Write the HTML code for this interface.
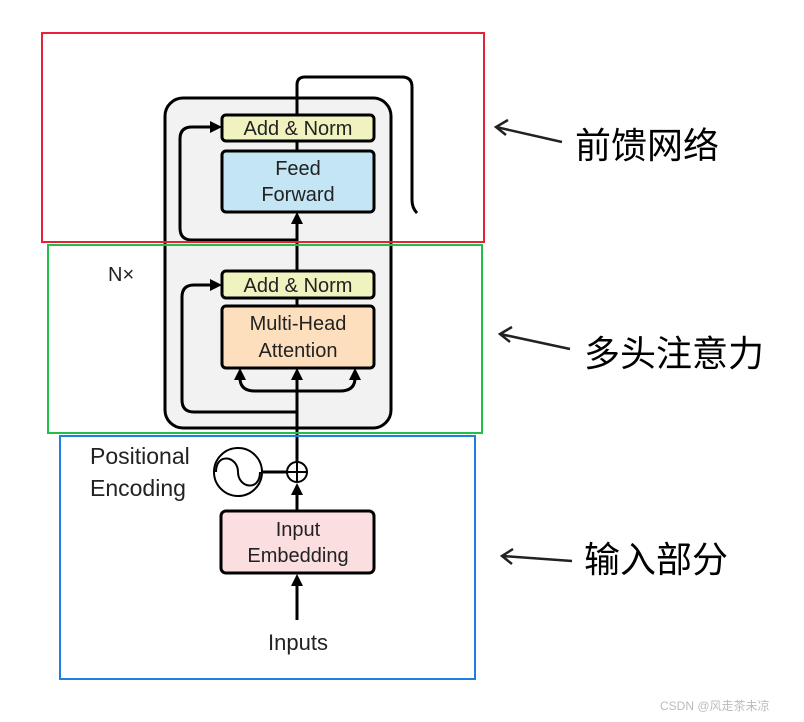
<!DOCTYPE html>
<html><head><meta charset="utf-8"><style>
html,body{margin:0;padding:0;background:#fff;width:804px;height:722px;overflow:hidden}
svg{display:block}
text{font-family:"Liberation Sans","Noto Sans CJK SC",sans-serif}
</style></head><body>
<svg width="804" height="722" viewBox="0 0 804 722" xmlns="http://www.w3.org/2000/svg">
<rect x="165" y="98" width="226" height="330" rx="18" fill="#f2f2f2" stroke="#000" stroke-width="3"/>
<path d="M297,114 L297,85 Q297,77 305,77 L402,77 Q412,77 412,87 L412,200 Q412,208 417,213" fill="none" stroke="#000" stroke-width="3"/>
<!-- main vertical line segments -->
<line x1="297" y1="620" x2="297" y2="585" stroke="#000" stroke-width="3"/>
<path d="M291,586 L297,574 L303,586 z" fill="#000"/>
<line x1="297" y1="510" x2="297" y2="494" stroke="#000" stroke-width="3"/>
<path d="M291,495 L297,483 L303,495 z" fill="#000"/>
<line x1="297" y1="462" x2="297" y2="378" stroke="#000" stroke-width="3"/>
<path d="M291,380 L297,368 L303,380 z" fill="#000"/>
<line x1="297" y1="298" x2="297" y2="306" stroke="#000" stroke-width="3"/>
<line x1="297" y1="270" x2="297" y2="222" stroke="#000" stroke-width="3"/>
<path d="M291,224 L297,212 L303,224 z" fill="#000"/>
<line x1="297" y1="141" x2="297" y2="151" stroke="#000" stroke-width="3"/>
<!-- MHA side arrows -->
<path d="M240,378 Q240,391 255,391 L340,391 Q355,391 355,378" fill="none" stroke="#000" stroke-width="3"/>
<path d="M234,380 L240,368 L246,380 z" fill="#000"/>
<path d="M349,380 L355,368 L361,380 z" fill="#000"/>
<!-- residual loops -->
<path d="M297,412 L194,412 Q182,412 182,400 L182,297 Q182,285 194,285 L212,285" fill="none" stroke="#000" stroke-width="3"/>
<path d="M210,279 L222,285 L210,291 z" fill="#000"/>
<path d="M297,240 L192,240 Q180,240 180,228 L180,139 Q180,127 192,127 L212,127" fill="none" stroke="#000" stroke-width="3"/>
<path d="M210,121 L222,127 L210,133 z" fill="#000"/>
<!-- boxes -->
<rect x="222" y="115" width="152" height="26" rx="4" fill="#f0f3c0" stroke="#000" stroke-width="3"/>
<text x="298" y="135" font-size="20" text-anchor="middle" fill="#222">Add &amp; Norm</text>
<rect x="222" y="151" width="152" height="61" rx="4" fill="#c3e5f4" stroke="#000" stroke-width="3"/>
<text x="298" y="175" font-size="20" text-anchor="middle" fill="#222">Feed</text>
<text x="298" y="201" font-size="20" text-anchor="middle" fill="#222">Forward</text>
<rect x="222" y="271" width="152" height="27" rx="4" fill="#f0f3c0" stroke="#000" stroke-width="3"/>
<text x="298" y="292" font-size="20" text-anchor="middle" fill="#222">Add &amp; Norm</text>
<rect x="222" y="306" width="152" height="62" rx="4" fill="#fddfbe" stroke="#000" stroke-width="3"/>
<text x="298" y="330" font-size="20" text-anchor="middle" fill="#222">Multi-Head</text>
<text x="298" y="357" font-size="20" text-anchor="middle" fill="#222">Attention</text>
<text x="108" y="281" font-size="20" fill="#222">N×</text>
<!-- positional encoding -->
<circle cx="238" cy="472" r="24" fill="#fff" stroke="#000" stroke-width="2"/>
<path d="M216,472 C216,452 238,456 238,472 C238,488 260,492 260,472" fill="none" stroke="#000" stroke-width="2"/>
<line x1="262" y1="472" x2="287" y2="472" stroke="#000" stroke-width="3"/>
<circle cx="297" cy="472" r="10" fill="#fff" stroke="#000" stroke-width="2"/>
<line x1="287" y1="472" x2="307" y2="472" stroke="#000" stroke-width="2"/>
<line x1="297" y1="462" x2="297" y2="482" stroke="#000" stroke-width="2"/>
<text x="90" y="464" font-size="23" fill="#222">Positional</text>
<text x="90" y="496" font-size="23" fill="#222">Encoding</text>
<rect x="221" y="511" width="153" height="62" rx="5" fill="#fadee0" stroke="#000" stroke-width="3"/>
<text x="298" y="536" font-size="20" text-anchor="middle" fill="#222">Input</text>
<text x="298" y="562" font-size="20" text-anchor="middle" fill="#222">Embedding</text>
<text x="298" y="650" font-size="22" text-anchor="middle" fill="#222">Inputs</text>
<!-- colored frames -->
<rect x="42" y="33" width="442" height="209" fill="none" stroke="#e8213a" stroke-width="2"/>
<rect x="48" y="245" width="434" height="188" fill="none" stroke="#1fbf4a" stroke-width="2"/>
<rect x="60" y="436" width="415" height="243" fill="none" stroke="#1e7fe0" stroke-width="2"/>
<!-- arrows and labels -->
<g fill="none" stroke="#222" stroke-width="2.5">
<line x1="562" y1="142" x2="496" y2="127"/><path d="M508,120 L496,127 L506,135"/>
<line x1="570" y1="349" x2="500" y2="334"/><path d="M512,327 L500,334 L510,342"/>
<line x1="572" y1="561" x2="502" y2="556"/><path d="M513,549 L502,556 L512,564"/>
</g>
<text x="575" y="158" font-size="36" fill="#000">前馈网络</text>
<text x="584" y="366" font-size="36" fill="#000">多头注意力</text>
<text x="584" y="572" font-size="36" fill="#000">输入部分</text>
<text x="660" y="710" font-size="12" fill="#bbb">CSDN @风走茶未凉</text>
</svg>
</body></html>
